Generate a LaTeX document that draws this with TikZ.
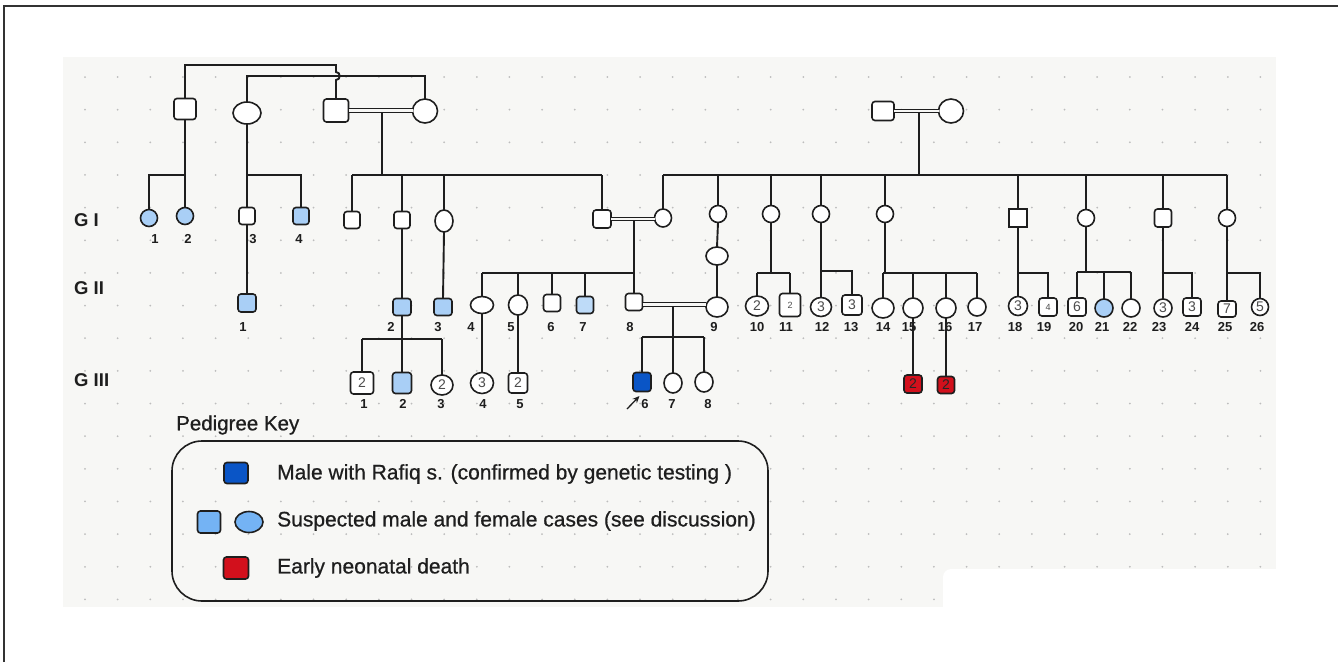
\documentclass[tikz,border=0pt]{standalone}
\usepackage{fontspec}
\setmainfont{Liberation Sans}
\newfontfamily\keyfont{Liberation Sans}[FakeBold=0.7]
\usetikzlibrary{shapes.geometric,arrows.meta}
\definecolor{panel}{HTML}{F7F7F5}
\definecolor{dotc}{HTML}{BDBDBD}
\definecolor{lblue}{HTML}{A9CFF6}
\definecolor{kblue}{HTML}{74B3F4}
\definecolor{dblue}{HTML}{0A55C6}
\definecolor{dred}{HTML}{D2101C}
\definecolor{ink}{HTML}{1E1E1E}
\begin{document}
\begin{tikzpicture}[x=1pt,y=-1pt,
  ln/.style={draw=ink,line width=1.9pt},
  base/.style={draw=ink,line width=1.6pt,fill=white,inner sep=0pt,outer sep=0pt,font=\fontsize{14}{14}\selectfont,text=black!70},
  sq/.style 2 args={base,rectangle,rounded corners=3pt,minimum width=#1pt,minimum height=#2pt},
  el/.style 2 args={base,ellipse,minimum width=#1pt,minimum height=#2pt},
  lab/.style={font=\bfseries\fontsize{13}{13}\selectfont,inner sep=0pt,text=ink},
  gen/.style={font=\bfseries\fontsize{18.5}{18.5}\selectfont,anchor=west,inner sep=0pt,text=ink},
  keytxt/.style={font=\keyfont\fontsize{21}{21}\selectfont,anchor=west,inner sep=0pt,text=ink},
  dbl/.style={draw=ink,line width=1.2pt,double=panel,double distance=2.2pt},
]
\useasboundingbox (0,0) rectangle (1338,662);
\fill[white] (0,0) rectangle (1338,662);
\draw[line width=1.3pt,black!80] (4,662) -- (4,6) -- (1338,6);
\fill[panel] (63,57) rectangle (1276,607);
\foreach \i in {0,...,36}{\foreach \j in {0,...,16}{\fill[dotc] (85+32.65*\i,77+32.65*\j) circle (1pt);}}
\fill[white,rounded corners=8pt] (943,569) rectangle (1295,620);

% y levels
\coordinate (yT1) at (0,65);
\coordinate (yT2) at (0,76);
\coordinate (yS) at (0,175);
\coordinate (yS2) at (0,273);
\coordinate (yS5) at (0,271);
\coordinate (yS6) at (0,272);
\coordinate (yS3) at (0,339);
\coordinate (yS4) at (0,337);
\coordinate (ym) at (0,304.5);

% generation labels
\node[gen] (G1) at (74,220) {G I};
\node[gen] (G2) at (74,288) {G II};
\node[gen] (G3) at (74,380) {G III};

% top
\node[sq={22}{21}] (P1) at (185,109) {};
\node[el={28}{22}] (P2) at (247,113) {};
\node[sq={25}{23}] (P3) at (336,110.5) {};
\node[el={25}{24}] (P4) at (425,111) {};
\node[sq={22}{19}] (P5) at (883,111) {};
\node[el={25}{24}] (P6) at (951,111) {};

% GI
\node[el={17}{17},fill=lblue] (a1) at (149,218) {};
\node[el={17}{17},fill=lblue] (a2) at (185,216) {};
\node[sq={16}{17}] (a3) at (247,216) {};
\node[sq={16}{17},fill=lblue] (a4) at (301,216) {};
\node[sq={16}{17}] (a5) at (352,220) {};
\node[sq={16}{17}] (a6) at (402,220) {};
\node[el={18}{22}] (a7) at (444,221) {};
\node[sq={18}{18}] (a8) at (602,219) {};
\node[el={17}{18}] (b1) at (663,218) {};
\node[el={17}{17}] (b2) at (718,214) {};
\node[el={22}{18}] (b2x) at (717,256) {};
\node[el={17}{17}] (b3) at (771,214) {};
\node[el={17}{17}] (b4) at (821,214) {};
\node[el={17}{17}] (b5) at (885,214) {};
\node[sq={18}{18},sharp corners] (b6) at (1018,218) {};
\node[el={17}{17}] (b7) at (1086,218) {};
\node[sq={17}{18}] (b8) at (1163,218) {};
\node[el={17}{17}] (b9) at (1227,218) {};

% GII
\node[sq={18}{18},fill=lblue] (c1) at (247,303) {};
\node[sq={18}{17},fill=lblue] (c2) at (402,307) {};
\node[sq={18}{17},fill=lblue] (c3) at (443,307) {};
\node[el={23}{17}] (c4) at (482,305) {};
\node[el={19}{20}] (c5) at (518,305) {};
\node[sq={17}{17}] (c6) at (552,303) {};
\node[sq={17}{17},fill=lblue!75] (c7) at (585,305) {};
\node[sq={17}{17}] (c8) at (634,302) {};
\node[el={22}{20}] (c9) at (717,307) {};
\node[el={23}{20}] (c10) at (757,306) {2};
\node[sq={21}{23}] (c11) at (790,305) {\fontsize{9}{9}\selectfont 2};
\node[el={21}{19}] (c12) at (821,307) {3};
\node[sq={20}{20}] (c13) at (852,305) {3};
\node[el={22}{20}] (c14) at (883,308) {};
\node[el={20}{20}] (c15) at (913,308) {};
\node[el={20}{20}] (c16) at (946,308) {};
\node[el={18}{18}] (c17) at (977,307) {};
\node[el={19}{19}] (c18) at (1018,306) {3};
\node[sq={18}{18}] (c19) at (1048,307) {\fontsize{9}{9}\selectfont 4};
\node[sq={18}{18}] (c20) at (1077,307) {6};
\node[el={18}{18},fill=lblue] (c21) at (1104,308) {};
\node[el={18}{18}] (c22) at (1131,308) {};
\node[el={18}{18}] (c23) at (1163,308) {3};
\node[sq={18}{18}] (c24) at (1192,307) {3};
\node[sq={18}{16}] (c25) at (1227,309) {7};
\node[el={17}{17}] (c26) at (1260,307) {5};

% GIII
\node[sq={23}{22}] (d1) at (362,383) {2};
\node[sq={19}{21},fill=lblue] (d2) at (402,383) {};
\node[el={22}{20}] (d3) at (442,385) {2};
\node[el={23}{21}] (d4) at (482,383) {3};
\node[sq={19}{20}] (d5) at (518,383) {2};
\node[sq={18}{19},fill=dblue] (d6) at (642,382) {};
\node[el={18}{20}] (d7) at (673,383) {};
\node[el={18}{20}] (d8) at (704,382) {};
\node[sq={18}{18},fill=dred,text=black!85] (e1) at (913,384) {2};
\node[sq={17}{17},fill=dred,text=black!85] (e2) at (946,385) {2};

% ---- connectors ----
\draw[ln] (P1.north) -- (P1.north |- yT1) -- (336,65) -- (336,72) .. controls (341,72) and (341,80) .. (336,80) -- (P3.north);
\draw[ln] (P2.north) -- (P2.north |- yT2) -- (P4.north |- yT2) -- (P4.north);
\draw[dbl] (P3.east) -- (P3.east -| P4.west);
\coordinate (m1) at (382,113);
\draw[ln] (m1) -- (m1 |- yS);
\draw[ln] (a5.north |- yS) -- (a8.north |- yS);
\foreach \n in {a5,a6,a7,a8}{\draw[ln] (\n.north |- yS) -- (\n.north);}
\draw[ln] (P1.south) -- (P1.south |- yS) -- (a1.north |- yS) -- (a1.north);
\draw[ln] (P1.south |- yS) -- (a2.north);
\draw[ln] (P2.south) -- (P2.south |- yS) -- (a4.north |- yS) -- (a4.north);
\draw[ln] (P2.south |- yS) -- (a3.north);

\draw[dbl] (P5.east) -- (P5.east -| P6.west);
\coordinate (m2) at (919,113);
\draw[ln] (m2) -- (m2 |- yS);
\draw[ln] (b1.north |- yS) -- (b9.north |- yS);
\foreach \n in {b1,b2,b3,b4,b5,b6,b7,b8,b9}{\draw[ln] (\n.north |- yS) -- (\n.north);}

\draw[dbl] (a8.east) -- (a8.east -| b1.west);
\coordinate (m3) at (634,221);
\draw[ln] (m3) -- (c8.north);
\draw[ln] (c4.north |- yS2) -- (c8.north |- yS2);
\foreach \n in {c4,c5,c6,c7}{\draw[ln] (\n.north |- yS2) -- (\n.north);}
\draw[ln] (b2.south) -- (b2x.north);
\draw[ln] (b2x.south) -- (c9.north);

\draw[ln] (a3.south) -- (c1.north);
\draw[ln] (a6.south) -- (c2.north);
\draw[ln] (c2.south) -- (d2.north);
\draw[ln] (d1.north |- yS3) -- (d3.north |- yS3);
\draw[ln] (d1.north |- yS3) -- (d1.north);
\draw[ln] (d3.north |- yS3) -- (d3.north);
\draw[ln] (a7.south) -- (c3.north);
\draw[ln] (c4.south) -- (d4.north);
\draw[ln] (c5.south) -- (d5.north);

\draw[dbl] (c8.east |- ym) -- (c9.west |- ym);
\coordinate (m4) at (673,307);
\draw[ln] (m4) -- (m4 |- yS4);
\draw[ln] (d6.north |- yS4) -- (d8.north |- yS4);
\foreach \n in {d6,d7,d8}{\draw[ln] (\n.north |- yS4) -- (\n.north);}

\draw[ln] (b3.south) -- (b3.south |- yS2);
\draw[ln] (c10.north |- yS2) -- (c11.north |- yS2);
\foreach \n in {c10,c11}{\draw[ln] (\n.north |- yS2) -- (\n.north);}
\draw[ln] (b4.south) -- (c12.north);
\draw[ln] (c12.north |- yS5) -- (c13.north |- yS5) -- (c13.north);
\draw[ln] (b5.south) -- (b5.south |- yS2);
\draw[ln] (c14.north |- yS2) -- (c17.north |- yS2);
\foreach \n in {c14,c15,c16,c17}{\draw[ln] (\n.north |- yS2) -- (\n.north);}
\draw[ln] (c15.south) -- (e1.north);
\draw[ln] (c16.south) -- (e2.north);
\draw[ln] (b6.south) -- (c18.north);
\draw[ln] (c18.north |- yS2) -- (c19.north |- yS2) -- (c19.north);
\draw[ln] (b7.south) -- (b7.south |- yS6);
\draw[ln] (c20.north |- yS6) -- (c22.north |- yS6);
\foreach \n in {c20,c21,c22}{\draw[ln] (\n.north |- yS6) -- (\n.north);}
\draw[ln] (b8.south) -- (c23.north);
\draw[ln] (c23.north |- yS2) -- (c24.north |- yS2) -- (c24.north);
\draw[ln] (b9.south) -- (c25.north);
\draw[ln] (c25.north |- yS2) -- (c26.north |- yS2) -- (c26.north);

% proband arrow
\coordinate (arrS) at (627,409);
\coordinate (arrT) at (639.5,396);
\draw[ink,line width=1.3pt,-{Stealth[length=7pt,width=6pt]}] (arrS) -- (arrT);

% labels
\foreach \t/\x [count=\k] in {1/155,2/188,3/253,4/299}{\node[lab] (l1-\k) at (\x,239) {\t};}
\foreach \t/\x [count=\k] in {1/243,2/391,3/438,4/471,5/511,6/551,7/583,8/630,9/714,10/757,11/786,12/822,13/851,14/883,15/909,16/945,17/975,18/1015,19/1044,20/1076,21/1102,22/1130,23/1159,24/1192,25/1225,26/1257}{\node[lab] (l2-\k) at (\x,327) {\t};}
\foreach \t/\x [count=\k] in {1/364,2/403,3/441,4/483,5/520,6/645,7/672,8/708}{\node[lab] (l3-\k) at (\x,404) {\t};}

% legend
\node[keytxt,font=\keyfont\fontsize{20.5}{20.5}\selectfont] (keyT) at (176,425) {Pedigree Key};
\draw[draw=ink,line width=1.6pt,rounded corners=30pt] (172,441) rectangle (768,601);
\node[sq={24}{21},fill=dblue] (k1) at (236,473) {};
\node[sq={23}{22},fill=kblue] (k2) at (209,522) {};
\node[el={28}{21},fill=kblue] (k3) at (249,522) {};
\node[sq={25}{22},fill=dred] (k4) at (236,568) {};
\node[keytxt] (t1) at (277,474) {Male with Rafiq s. (confirmed by genetic testing )};
\node[keytxt] (t2) at (277,521) {Suspected male and female cases (see discussion)};
\node[keytxt] (t3) at (277,568) {Early neonatal death};
\end{tikzpicture}
\end{document}
